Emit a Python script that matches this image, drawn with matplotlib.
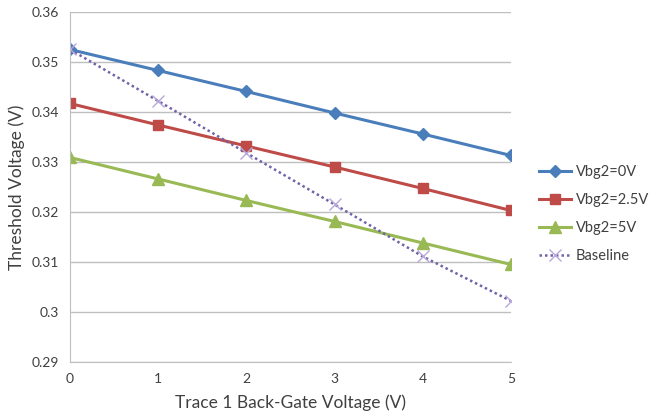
import matplotlib.pyplot as plt

# data
x = [0, 1, 2, 3, 4, 5]
vbg0 = [0.3525, 0.3483, 0.3441, 0.3398, 0.3356, 0.3313]
vbg25 = [0.3417, 0.3374, 0.3332, 0.3290, 0.3247, 0.3203]
vbg5 = [0.3309, 0.3266, 0.3223, 0.3181, 0.3138, 0.3095]
baseline = [0.3525, 0.3422, 0.3318, 0.3215, 0.3111, 0.3022]
yticks = [0.29, 0.30, 0.31, 0.32, 0.33, 0.34, 0.35, 0.36]

plt.rcParams['font.family'] = ['Lato', 'DejaVu Sans']

fig = plt.figure(figsize=(6.59, 4.18), dpi=100)
ax = fig.add_axes([70 / 659, 1 - 362 / 418, 441 / 659, 350 / 418])

ax.plot(x, vbg0, color='#4A7EBB', lw=2.2, marker='D', ms=6.5, label='Vbg2=0V')
ax.plot(x, vbg25, color='#BE4B48', lw=2.2, marker='s', ms=7.5, label='Vbg2=2.5V')
ax.plot(x, vbg5, color='#98B954', lw=2.2, marker='^', ms=8, label='Vbg2=5V')
ax.plot(x, baseline, color='#7163A8', lw=1.8, ls=(0, (1, 1.2)), marker='x',
        ms=8, mec='#B8A8DC', mew=1, label='Baseline')

ax.set_xlim(0, 5)
ax.set_ylim(0.29, 0.36)
ax.set_yticks(yticks)
ax.set_yticklabels(['%g' % v for v in yticks])
ax.set_xticks(x)
ax.grid(axis='y', color='#BFBFBF', lw=1)
ax.set_axisbelow(True)
for s in ['top', 'right']:
    ax.spines[s].set_visible(False)
for s in ['left', 'bottom']:
    ax.spines[s].set_color('#BFBFBF')
ax.tick_params(length=0, labelsize=10, colors='#404040', pad=8)
ax.tick_params(axis='y', pad=8)

ax.set_xlabel('Trace 1 Back-Gate Voltage (V)', fontsize=12.5, color='#404040', labelpad=7)
ax.set_ylabel('Threshold Voltage (V)', fontsize=12.5, color='#404040', labelpad=5)

leg = fig.legend(loc='upper left', bbox_to_anchor=(526 / 659, 1 - 152 / 418),
                 frameon=False, fontsize=10.5, handlelength=2.2, labelspacing=0.95,
                 handletextpad=0.3)
for t in leg.get_texts():
    t.set_color('#404040')

fig.savefig('out.png', dpi=100)
